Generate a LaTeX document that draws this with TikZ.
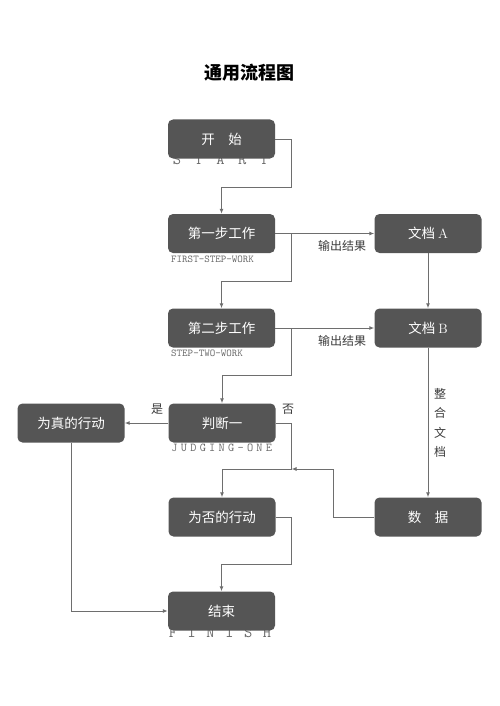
\documentclass[tikz,border=0pt]{standalone}
\usepackage{fontspec}
\newfontfamily\cjk{Noto Sans CJK SC}
\usetikzlibrary{arrows.meta}
\definecolor{boxgray}{HTML}{555555}
\definecolor{linegray}{HTML}{6E6E6E}
\definecolor{txtgray}{HTML}{3C3C3C}
\definecolor{engray}{HTML}{6A6A6A}

\begin{document}
\begin{tikzpicture}[x=1pt,y=-1pt,
    box/.style={fill=boxgray,rounded corners=5pt,minimum width=107pt,minimum height=39pt,
      text=white,font=\cjk\fontsize{13.5}{16}\selectfont},
    arr/.style={draw=linegray,line width=1pt,-{Latex[length=5pt,width=4pt]}},
    wire/.style={draw=linegray,line width=1pt},
    note/.style={text=txtgray,font=\cjk\fontsize{12}{14}\selectfont,inner sep=0pt},
    en/.style={text=engray,inner sep=0pt,anchor=base west},
    letter/.style={text=engray,inner sep=0pt,anchor=base,font=\ttfamily\fontsize{16}{16}\selectfont}]
  \fill[white] (0,0) rectangle (500,706);
  \useasboundingbox (0,0) rectangle (500,706);

  \node[font=\cjk\bfseries\fontsize{18}{20}\selectfont] (title) at (249,73) {通用流程图};

  % english lines, under the boxes
  \foreach \l [count=\i from 0] in {S,T,A,R,T}
    \node[letter] (startEn\i) at (177+21.75*\i,164) {\l};
  \node[en,font=\ttfamily\fontsize{10.5}{10}\selectfont] (step1En) at (171,262) {FIRST-STEP-WORK};
  \node[en,font=\ttfamily\fontsize{10.5}{10}\selectfont] (step2En) at (171,356) {STEP-TWO-WORK};
  \foreach \l [count=\i from 0] in {J,U,D,G,I,N,G,-,O,N,E}
    \node[letter,font=\ttfamily\fontsize{12}{12}\selectfont] (judgeEn\i) at (174.5+9.45*\i,451) {\l};
  \foreach \l [count=\i from 0] in {F,I,N,I,S,H}
    \node[letter] (finishEn\i) at (173+18.8*\i,637) {\l};

  \node[box] (start) at (221.5,139) {开\quad 始};
  \node[box] (step1) at (221.5,233.5) {第一步工作};
  \node[box] (docA) at (428,233.5) {文档 \textrm{A}};
  \node[box] (step2) at (221.5,328) {第二步工作};
  \node[box] (docB) at (428,328) {文档 \textrm{B}};
  \node[box] (judge) at (222,423) {判断一};
  \node[box] (yesAct) at (71,423) {为真的行动};
  \node[box] (noAct) at (222,517) {为否的行动};
  \node[box] (data) at (428,517) {数\quad 据};
  \node[box] (finish) at (221.5,611) {结束};

  \coordinate (j1) at (291.5,187);
  \coordinate (j2) at (291.5,281);
  \coordinate (j3) at (291.5,375);
  \coordinate (j4) at (291.5,469);
  \coordinate (j5) at (333,469);
  \coordinate (j6) at (291.5,564);

  \draw[arr] (start.east) -| (j1) -| (step1.north);
  \draw[arr] (step1.east) -- (docA.west);
  \draw[arr] (step1.east -| j2) -- (j2) -| (step2.north);
  \draw[arr] (docA.south) -- (docB.north);
  \draw[arr] (step2.east) -- (docB.west);
  \draw[arr] (step2.east -| j3) -- (j3) -| (judge.north);
  \draw[arr] (judge.west) -- (yesAct.east);
  \draw[wire] (judge.east) -| (j4);
  \draw[arr] (j4) -| (noAct.north);
  \draw[arr] (data.west) -| (j5) -- (j4);
  \draw[arr] (docB.south) -- (data.north);
  \draw[arr] (noAct.east) -| (j6) -| (finish.north);
  \draw[arr] (yesAct.south) |- (finish.west);

  \node[note] (out1) at (342,246) {输出结果};
  \node[note] (out2) at (342,341) {输出结果};
  \node[note] (yes) at (157,409) {是};
  \node[note] (no) at (288,409) {否};
  \node[note,align=center,font=\cjk\fontsize{12}{19.3}\selectfont] (merge) at (440,423) {整\\合\\文\\档};
\end{tikzpicture}
\end{document}
